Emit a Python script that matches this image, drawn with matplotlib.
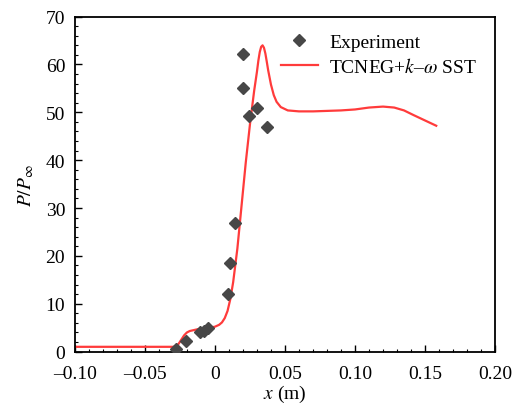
import matplotlib
matplotlib.use("Agg")
import matplotlib.pyplot as plt
from matplotlib.ticker import MultipleLocator, FuncFormatter

plt.rcParams['font.family'] = ['Liberation Serif', 'DejaVu Serif']
plt.rcParams['mathtext.fontset'] = 'stix'

# Experimental data
exp_x = [-0.028, -0.021, -0.011, -0.008, -0.005, 0.009, 0.011, 0.014, 0.020, 0.020, 0.024, 0.030, 0.037]
exp_y = [0.6, 2.2, 4.0, 4.4, 4.9, 12.0, 18.6, 26.8, 55.0, 62.2, 49.3, 51.0, 47.0]

# TCNEG + k-omega SST simulation
sim_x = [-0.1, -0.03, -0.028, -0.026, -0.024, -0.022, -0.020, -0.018, -0.015, -0.012, -0.006,
         0.0, 0.003, 0.005, 0.007, 0.009, 0.011, 0.013, 0.016, 0.019, 0.022, 0.025, 0.028,
         0.030, 0.031, 0.032, 0.033, 0.034, 0.035, 0.036, 0.037, 0.038, 0.040, 0.042, 0.044,
         0.047, 0.052, 0.06, 0.07, 0.08, 0.09, 0.10, 0.11, 0.12, 0.128, 0.135, 0.142, 0.150,
         0.158]
sim_y = [1.0, 1.0, 1.1, 1.6, 2.5, 3.4, 4.0, 4.3, 4.5, 4.7, 4.9,
         5.2, 5.6, 6.1, 7.0, 8.5, 11.0, 14.5, 21.5, 30.5, 39.5, 47.5, 54.5,
         58.5, 60.8, 62.6, 63.7, 64.0, 63.5, 62.3, 60.6, 58.8, 55.8, 53.6, 52.2,
         51.1, 50.4, 50.2, 50.2, 50.3, 50.4, 50.6, 51.0, 51.2, 51.0, 50.4, 49.4, 48.3,
         47.2]

fig = plt.figure(figsize=(5.13, 4.10), dpi=100)
ax = fig.add_axes([0.146, 0.14, 0.819, 0.817])

ax.plot(sim_x, sim_y, color='#ff3b3b', lw=1.6, label=r'TCNEG+$k$–$\omega$ SST', zorder=2)
ax.plot(exp_x, exp_y, linestyle='none', marker='D', markersize=6.5, color='#474747',
        label='Experiment', zorder=3)

ax.set_xlim(-0.10, 0.20)
ax.set_ylim(0, 70)
ax.xaxis.set_major_locator(MultipleLocator(0.05))
ax.xaxis.set_minor_locator(MultipleLocator(0.01))
ax.yaxis.set_major_locator(MultipleLocator(10))
ax.yaxis.set_minor_locator(MultipleLocator(2))

def xfmt(v, pos):
    if abs(v) < 1e-9:
        return '0'
    s = f'{abs(v):.2f}'
    return ('–' + s) if v < 0 else s
ax.xaxis.set_major_formatter(FuncFormatter(xfmt))

ax.tick_params(which='both', direction='in', top=False, right=False, labelsize=14)
ax.tick_params(which='major', length=5, width=1)
ax.tick_params(which='minor', length=2.5, width=0.8)
ax.tick_params(axis='x', which='major', pad=10)
ax.tick_params(axis='y', which='major', pad=7)
for sp in ax.spines.values():
    sp.set_linewidth(1.3)

ax.set_xlabel(r'$x$ (m)', fontsize=14, labelpad=0)
ax.set_ylabel(r'$P/P_{\infty}$', fontsize=14, labelpad=7)

handles, labels = ax.get_legend_handles_labels()
ax.legend(handles[::-1], labels[::-1], loc='upper right', bbox_to_anchor=(0.985, 0.985),
          frameon=False, fontsize=14, handlelength=1.9, handletextpad=0.6,
          labelspacing=0.3, borderaxespad=0.2)

fig.savefig('out.png', dpi=100)
